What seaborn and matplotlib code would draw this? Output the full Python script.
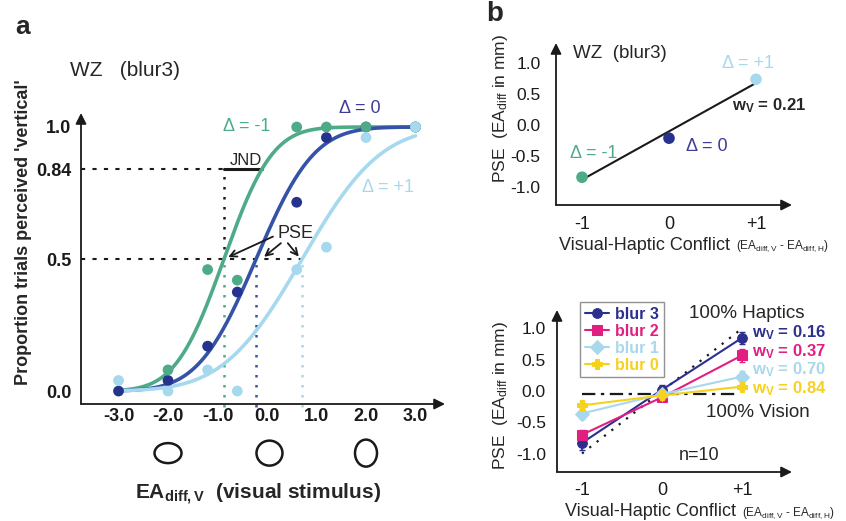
import numpy as np
import pandas as pd
import matplotlib
matplotlib.use('Agg')
import matplotlib.pyplot as plt
import seaborn as sns
from matplotlib.patches import Ellipse
from math import erf, sqrt

sns.set_theme(style='white')
plt.rcParams['font.family'] = ['Liberation Sans', 'DejaVu Sans']
plt.rcParams['mathtext.fontset'] = 'custom'
plt.rcParams['mathtext.rm'] = 'Liberation Sans'
plt.rcParams['mathtext.bf'] = 'Liberation Sans:bold'
plt.rcParams['mathtext.it'] = 'Liberation Sans:italic'

W, H = 846, 521

# ---- panel a: psychometric data (WZ, blur3)
stim = [-3.0, -2.0, -1.2, -0.6, 0.6, 1.2, 2.0, 3.0]
prop_minus1 = [np.nan, 0.08, 0.46, 0.42, 1.0, 1.0, 1.0, 1.0]
prop_zero = [0.0, 0.04, 0.17, 0.375, 0.715, 0.96, 1.0, 1.0]
prop_plus1 = [0.04, 0.0, 0.08, 0.0, 0.46, 0.545, 0.96, 1.0]
pse_fit = [-0.87, -0.22, 0.71]
sigma_fit = [0.77, 0.92, 1.25]
delta_names = ['Δ = -1', 'Δ = 0', 'Δ = +1']
xticks_a = [-3.0, -2.0, -1.0, 0.0, 1.0, 2.0, 3.0]
yticks_a = [0.0, 0.5, 0.84, 1.0]

# ---- panel b top: PSE vs conflict
conflict = [-1, 0, 1]
pse_wz = [-0.85, -0.22, 0.73]
fit_wz = [-0.89, 0.67]

# ---- panel b bottom: group means (n=10)
blur_names = ['blur 3', 'blur 2', 'blur 1', 'blur 0']
pse_blur3 = [-0.83, 0.02, 0.85]
pse_blur2 = [-0.70, -0.10, 0.57]
pse_blur1 = [-0.36, -0.05, 0.23]
pse_blur0 = [-0.23, -0.07, 0.07]
err_blur3 = [0.12, 0.08, 0.09]
err_blur2 = [0.08, 0.06, 0.11]
err_blur1 = [0.09, 0.05, 0.09]
err_blur0 = [0.07, 0.04, 0.04]
wv_values = ['0.16', '0.37', '0.70', '0.84']

green = '#4eab88'
blue_line = '#3553a6'
blue_dot = '#25338f'
blue_txt = '#3f3c98'
light = '#a7d9ee'
blur_cols = ['#2d2f8e', '#e11f80', '#a8d8ec', '#f6d11e']
blur_marks = ['o', 's', 'D', 'P']


def rect(x0, y0, x1, y1):
    return [x0 / W, 1 - y1 / H, (x1 - x0) / W, (y1 - y0) / H]


def ftext(px, py, s, **kw):
    fig.text(px / W, 1 - py / H, s, **kw)


def arrow_axes(ax):
    for sp in ax.spines.values():
        sp.set_visible(False)
    kw = dict(xycoords='axes fraction', arrowprops=dict(arrowstyle='-|>', color='k', lw=1.3,
                                                       mutation_scale=16, shrinkA=0, shrinkB=0))
    ax.annotate('', xy=(1, 0), xytext=(0, 0), **kw)
    ax.annotate('', xy=(0, 1), xytext=(0, 0), **kw)


def cum_gauss(x, mu, s):
    return np.array([0.5 * (1 + erf((v - mu) / (s * sqrt(2)))) for v in x])


fig = plt.figure(figsize=(W / 100, H / 100), dpi=100)

# ================= panel a
ax = fig.add_axes(rect(81, 113, 445, 404))
ax.set_xlim(-3.758, 3.596)
ax.set_ylim(-0.049, 1.053)
arrow_axes(ax)

cols_a = [green, blue_line, light]
xs = np.linspace(-3, 3, 300)
# dotted helper lines
ax.plot([-3.758, pse_fit[0]], [0.84, 0.84], color='k', lw=1.5, dashes=(2, 3.5))
ax.plot([-3.758, pse_fit[2]], [0.5, 0.5], color='k', lw=1.5, dashes=(2, 3.5))
ax.plot([pse_fit[0], pse_fit[0]], [0.5, 0.84], color='k', lw=1.8, dashes=(1, 3))
for mu, c in zip(pse_fit, cols_a):
    ax.plot([mu, mu], [-0.06, 0.5], color=c, lw=1.8, dashes=(1, 3), clip_on=False)
ax.plot([pse_fit[0], pse_fit[0] + sigma_fit[0]], [0.84, 0.84], color='k', lw=2.2)

df_a = pd.DataFrame({'stim': stim * 3,
                     'prop': prop_zero + prop_minus1 + prop_plus1,
                     'cond': ['0'] * 8 + ['-1'] * 8 + ['+1'] * 8}).dropna()
for mu, s, c in zip(pse_fit, sigma_fit, cols_a):
    sns.lineplot(x=xs, y=cum_gauss(xs, mu, s), color=c, lw=2.6, ax=ax)
sns.scatterplot(data=df_a, x='stim', y='prop', hue='cond', hue_order=['0', '-1', '+1'],
                palette=[blue_dot, green, light], s=60, edgecolor='none', legend=False,
                ax=ax, clip_on=False, zorder=5)

ax.set_xticks(xticks_a)
ax.set_xticklabels([f'{v:.1f}' for v in xticks_a], fontsize=13, fontweight='bold')
ax.set_yticks(yticks_a)
ax.set_yticklabels(['0.0', '0.5', '0.84', '1.0'], fontsize=13, fontweight='bold')
ax.tick_params(axis='x', direction='in', length=5, width=1.2, pad=3, colors='k')
ax.tick_params(axis='y', direction='out', length=3, width=1.2, pad=4, colors='k')
ax.set_xlabel('')
ax.set_ylabel('')

# stimulus ellipses
for cx, w, h in [(-2.0, 27, 20), (0.05, 26, 25), (2.0, 22, 27)]:
    ax.add_patch(Ellipse((cx, -0.235), w / 49.5, h / 264, fill=False, ec='k', lw=1.8,
                         clip_on=False))

# text annotations
ax.text(-0.42, 1.0, delta_names[0], color=green, fontsize=13, ha='center', va='center')
ax.text(1.88, 1.07, delta_names[1], color=blue_txt, fontsize=13, ha='center', va='center',
        clip_on=False)
ax.text(2.45, 0.77, delta_names[2], color=light, fontsize=13, ha='center', va='center')
ax.text(-0.42, 0.875, 'JND', fontsize=12, ha='center', va='center')
ax.text(0.57, 0.595, 'PSE', fontsize=13, ha='center', va='center')
akw = dict(arrowstyle='->', color='k', lw=1.3, shrinkA=0, shrinkB=1)
ax.annotate('', xy=(pse_fit[0] + 0.06, 0.505), xytext=(0.12, 0.585), arrowprops=akw)
ax.annotate('', xy=(-0.08, 0.505), xytext=(0.28, 0.56), arrowprops=akw)
ax.annotate('', xy=(pse_fit[2] - 0.05, 0.505), xytext=(0.42, 0.56), arrowprops=akw)

ftext(23, 27, 'a', fontsize=19, fontweight='bold', ha='center', va='center')
ftext(70, 70, 'WZ   (blur3)', fontsize=15, ha='left', va='center')
ftext(24, 232, "Proportion trials perceived 'vertical'", fontsize=13, fontweight='bold',
      rotation=90, ha='center', va='center')
ftext(258, 494, r'EA$_{\mathbf{diff,V}}$  (visual stimulus)', fontsize=15, fontweight='bold',
      ha='center', va='center')

# ================= panel b (top)
bx = fig.add_axes(rect(556, 43, 792, 205))
bx.set_xlim(-1.299, 1.414)
bx.set_ylim(-1.298, 1.315)
arrow_axes(bx)
sns.lineplot(x=[-1, 1], y=fit_wz, color='k', lw=1.5, ax=bx)
sns.scatterplot(x=conflict, y=pse_wz, hue=['-1', '0', '+1'], palette=[green, blue_dot, light],
                s=70, edgecolor='none', legend=False, ax=bx, zorder=5)
bx.set_xticks(conflict)
bx.set_xticklabels(['-1', '0', '+1'], fontsize=13)
bx.set_yticks([-1.0, -0.5, 0.0, 0.5, 1.0])
bx.set_yticklabels(['-1.0', '-0.5', '0.0', '0.5', '1.0'], fontsize=12.5)
bx.tick_params(axis='x', direction='in', length=3, width=1, pad=8, colors='k')
bx.tick_params(axis='y', direction='in', length=3, width=1, pad=11, colors='k')
bx.set_xlabel('')
bx.set_ylabel('')
bx.text(-0.87, -0.46, delta_names[0], color=green, fontsize=13, ha='center', va='center')
bx.text(0.44, -0.36, delta_names[1], color=blue_txt, fontsize=13, ha='center', va='center')
bx.text(0.91, 0.98, delta_names[2], color=light, fontsize=13, ha='center', va='center')
bx.text(0.72, 0.3, r'w$_\mathbf{V}$ = 0.21', fontsize=12, fontweight='bold', ha='left',
        va='center')
bx.text(-1.10, 1.15, 'WZ  (blur3)', fontsize=13.5, ha='left', va='center')
ftext(495, 14, 'b', fontsize=20, fontweight='bold', ha='center', va='center')
ftext(500, 108, r'PSE  (EA$_{\mathrm{diff}}$ in mm)', fontsize=12.5, rotation=90,
      ha='center', va='center')
ftext(735, 245, 'Visual-Haptic Conflict ', fontsize=13, ha='right', va='center')
ftext(736, 246, r'(EA$_{\mathrm{diff,V}}$ - EA$_{\mathrm{diff,H}}$)', fontsize=8.5,
      ha='left', va='center')

# ================= panel b (bottom)
cx = fig.add_axes(rect(557, 310, 792, 472))
cx.set_xlim(-1.3125, 1.625)
cx.set_ylim(-1.296, 1.296)
arrow_axes(cx)
cx.plot([-1, 1], [-1, 1], color='k', lw=1.6, dashes=(1, 3.2))
cx.plot([-1, 0.95], [-0.05, -0.05], color='k', lw=1.6, dashes=(6, 2.5, 1.5, 2.5))
series = [pse_blur3, pse_blur2, pse_blur1, pse_blur0]
errors = [err_blur3, err_blur2, err_blur1, err_blur0]
order = [3, 2, 1, 0]
for i in order:
    sns.lineplot(x=conflict, y=series[i], color=blur_cols[i], marker=blur_marks[i],
                 markersize=7, markeredgecolor=blur_cols[i], lw=1.5, label=blur_names[i],
                 ax=cx, zorder=4 + i)
    cx.errorbar(conflict, series[i], yerr=errors[i], fmt='none', ecolor=blur_cols[i],
                elinewidth=1.3, capsize=2, zorder=4 + i)
handles, labels = cx.get_legend_handles_labels()
hl = sorted(zip(handles, labels), key=lambda t: blur_names.index(t[1]))
leg = cx.legend([h for h, _ in hl], [l for _, l in hl], loc='upper left',
                bbox_to_anchor=(580 / W, 1 - 302 / H), bbox_transform=fig.transFigure,
                frameon=True, fancybox=False, edgecolor='#777777', fontsize=11.5,
                handlelength=1.5, handletextpad=0.4, labelspacing=0.12, borderpad=0.3,
                borderaxespad=0)
leg.get_frame().set_linewidth(1.0)
for t, c in zip(leg.get_texts(), blur_cols):
    t.set_color(c)
    t.set_fontweight('bold')
cx.set_xticks(conflict)
cx.set_xticklabels(['-1', '0', '+1'], fontsize=13)
cx.set_yticks([-1.0, -0.5, 0.0, 0.5, 1.0])
cx.set_yticklabels(['-1.0', '-0.5', '0.0', '0.5', '1.0'], fontsize=12.5)
cx.tick_params(axis='x', direction='in', length=3, width=1, pad=7, colors='k')
cx.tick_params(axis='y', direction='in', length=3, width=1, pad=8, colors='k')
cx.set_xlabel('')
cx.set_ylabel('')
for k, (v, c) in enumerate(zip(wv_values, blur_cols)):
    cx.text(1.12, 0.93 - 0.295 * k, r'w$_\mathbf{V}$ = ' + v, color=c, fontsize=12,
            fontweight='bold', ha='left', va='center')
cx.text(1.06, 1.24, '100% Haptics', fontsize=13.5, ha='center', va='center')
cx.text(1.2, -0.35, '100% Vision', fontsize=13.5, ha='center', va='center')
cx.text(0.47, -1.03, 'n=10', fontsize=13, ha='center', va='center')
ftext(500, 395, r'PSE  (EA$_{\mathrm{diff}}$ in mm)', fontsize=12.5, rotation=90,
      ha='center', va='center')
ftext(741, 511, 'Visual-Haptic Conflict ', fontsize=13, ha='right', va='center')
ftext(742, 513, r'(EA$_{\mathrm{diff,V}}$ - EA$_{\mathrm{diff,H}}$)', fontsize=8.5,
      ha='left', va='center')

fig.savefig('out.png', dpi=100)
